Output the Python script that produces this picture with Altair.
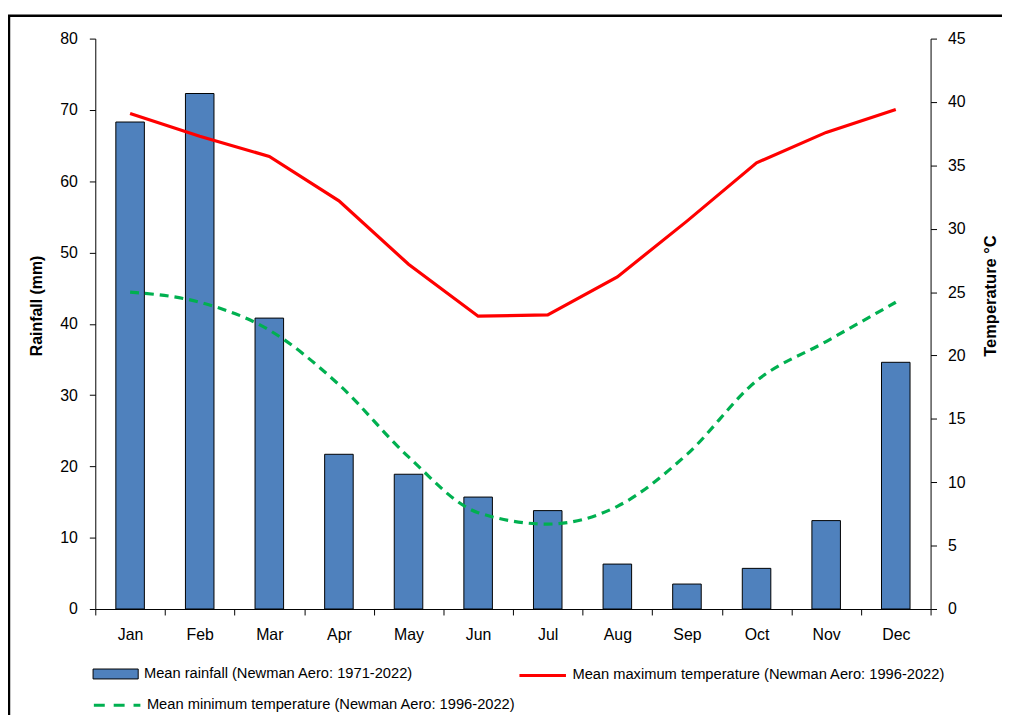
import altair as alt
import pandas as pd

months = ["Jan", "Feb", "Mar", "Apr", "May", "Jun", "Jul", "Aug", "Sep", "Oct", "Nov", "Dec"]
rain = [68.3, 72.3, 40.8, 21.7, 18.9, 15.7, 13.8, 6.3, 3.5, 5.7, 12.4, 34.6]
tmax = [39.1, 37.3, 35.7, 32.2, 27.2, 23.1, 23.2, 26.2, 30.6, 35.2, 37.6, 39.4]
tmin = [25.0, 24.2, 22.0, 17.7, 12.0, 7.6, 6.7, 8.1, 12.2, 18.0, 21.1, 24.2]

rain_name = "Mean rainfall (Newman Aero: 1971-2022)"
max_name = "Mean maximum temperature (Newman Aero: 1996-2022)"
min_name = "Mean minimum temperature (Newman Aero: 1996-2022)"

df = pd.DataFrame({"month": months, "rain": rain, "tmax": tmax, "tmin": tmin})
df["rs"] = rain_name
df["xs"] = max_name
df["ns"] = min_name

FONT = "Liberation Sans"

axis_common = dict(grid=False, domainColor="black", tickColor="black",
                   labelColor="black", labelFont=FONT, labelFontSize=16,
                   titleFont=FONT, titleColor="black", domainWidth=1,
                   tickWidth=1, tickSize=6)

x_enc = alt.X(
    "month:N", sort=months, title=None,
    scale=alt.Scale(paddingInner=0, paddingOuter=0),
    axis=alt.Axis(tickBand="extent", labelAngle=0, labelPadding=12, **axis_common),
)

frame = alt.Chart(pd.DataFrame({"f": [0]})).mark_rect(
    fill=None, stroke="black", strokeWidth=2.5, clip=False
).encode(
    x=alt.value(-87), x2=alt.value(1000), y=alt.value(-23), y2=alt.value(800)
)

legend_common = dict(title=None, orient="none", padding=0, labelFont=FONT,
                     labelFontSize=14.8, labelColor="black", labelLimit=600,
                     labelOffset=5)

bars = alt.Chart(df).mark_bar(
    width=alt.RelativeBandSize(0.41), stroke="black", strokeWidth=1
).encode(
    x=x_enc,
    y=alt.Y("rain:Q", scale=alt.Scale(domain=[0, 80], nice=False),
            axis=alt.Axis(orient="left", values=list(range(0, 81, 10)),
                          title="Rainfall (mm)", titleFontSize=16,
                          titleFontWeight="bold", titleAngle=270,
                          titleAlign="center", titleBaseline="middle",
                          titleX=-59, titleY=269, labelPadding=12, **axis_common)),
    color=alt.Color("rs:N", scale=alt.Scale(domain=[rain_name], range=["#4F81BD"]),
                    legend=alt.Legend(symbolType="M-1,-0.22H1V0.22H-1Z",
                                      symbolSize=2070, symbolStrokeColor="black",
                                      symbolStrokeWidth=1, symbolFillColor="#4F81BD",
                                      legendX=-3, legendY=617, **legend_common)),
)

y_right = alt.Y("tmax:Q", scale=alt.Scale(domain=[0, 45], nice=False),
                axis=alt.Axis(orient="right", values=list(range(0, 46, 5)),
                              title="Temperature °C", titleFontSize=16.6,
                              titleFontWeight="bold", titleAngle=270,
                              titleAlign="center", titleBaseline="middle",
                              titleX=60, titleY=259, labelPadding=11, **axis_common))

line_max = alt.Chart(df).mark_line(strokeWidth=3.2).encode(
    x=x_enc,
    y=y_right,
    color=alt.Color("xs:N", scale=alt.Scale(domain=[max_name], range=["#FF0000"]),
                    legend=alt.Legend(symbolType="stroke", symbolSize=2200,
                                      symbolStrokeWidth=3, legendX=426, legendY=617,
                                      **legend_common)),
)

line_min = alt.Chart(df).mark_line(strokeWidth=3.2, strokeDash=[9, 6],
                                   interpolate="monotone").encode(
    x=x_enc,
    y=alt.Y("tmin:Q"),
    color=alt.Color("ns:N", scale=alt.Scale(domain=[min_name], range=["#00B050"]),
                    legend=alt.Legend(symbolType="stroke", symbolSize=2200,
                                      symbolStrokeWidth=3, symbolDash=[11, 9],
                                      legendX=-3, legendY=647, **legend_common)),
)

temps = alt.layer(line_max, line_min).resolve_scale(color="independent")

chart = alt.layer(frame, bars, temps).resolve_scale(
    y="independent", color="independent"
).properties(
    width=842, height=575,
    autosize=alt.AutoSizeParams(type="none"),
    padding={"left": 88, "top": 28, "right": 72, "bottom": 104},
    background="white",
).configure_view(stroke=None)

chart.save("out.html", embed_options={"renderer": "svg", "actions": False})
